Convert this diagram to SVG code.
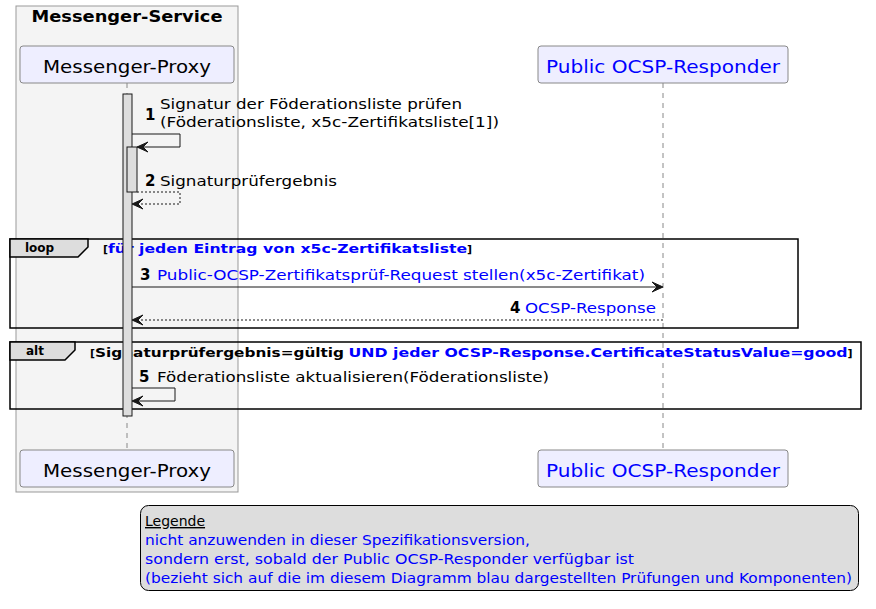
<svg xmlns="http://www.w3.org/2000/svg" width="876" height="609" viewBox="0 0 876 609">
<style>
  text { font-family: "DejaVu Sans", "Liberation Sans", sans-serif; }
  .part { fill: #EEEEFF; stroke: #888888; stroke-width: 1; }
  .ptxt { font-size: 18px; text-anchor: middle; }
  .blue { fill: #0000FF; }
  .life { stroke: #888888; stroke-width: 1; stroke-dasharray: 5,5; fill: none; }
  .act { fill: #DDDDDD; stroke: #181818; stroke-width: 1; }
  .msg { stroke: #181818; stroke-width: 1; fill: none; }
  .dash { stroke-dasharray: 2,2; }
  .mtxt { font-size: 14px; }
  .num { font-size: 15px; font-weight: bold; }
  .frame { fill: none; stroke: #000000; stroke-width: 1.5; }
  .tab { fill: #DDDDDD; stroke: #000000; stroke-width: 1.5; }
  .ftxt { font-size: 12px; font-weight: bold; }
  .guard { font-size: 13px; font-weight: bold; }
  .br { font-size: 11px; font-weight: bold; }
  .ah { fill: #181818; stroke: #181818; stroke-width: 1; }
</style>

<g id="messenger-service">
  <rect x="16" y="6" width="222" height="486" fill="#F4F4F4" stroke="#999999" stroke-width="1"/>
  <text x="127" y="22" font-size="15" font-weight="bold" text-anchor="middle" textLength="191" lengthAdjust="spacingAndGlyphs">Messenger-Service</text>
</g>

<g id="lifelines">
  <line class="life" x1="127" y1="83" x2="127" y2="450"/>
  <line class="life" x1="663" y1="83" x2="663" y2="450"/>
</g>

<g id="messenger-proxy-top">
  <rect class="part" x="20" y="46" width="214" height="37" rx="3"/>
  <text class="ptxt" x="127" y="73" textLength="168" lengthAdjust="spacingAndGlyphs">Messenger-Proxy</text>
</g>
<g id="ocsp-responder-top">
  <rect class="part" x="538" y="46" width="250" height="37" rx="3"/>
  <text class="ptxt blue" x="663" y="73" textLength="234" lengthAdjust="spacingAndGlyphs">Public OCSP-Responder</text>
</g>
<g id="messenger-proxy-bottom">
  <rect class="part" x="20" y="450" width="214" height="37" rx="3"/>
  <text class="ptxt" x="127" y="477" textLength="168" lengthAdjust="spacingAndGlyphs">Messenger-Proxy</text>
</g>
<g id="ocsp-responder-bottom">
  <rect class="part" x="538" y="450" width="250" height="37" rx="3"/>
  <text class="ptxt blue" x="663" y="477" textLength="234" lengthAdjust="spacingAndGlyphs">Public OCSP-Responder</text>
</g>

<g id="fragments">
  <g id="loop">
    <rect class="frame" x="10" y="239" width="788" height="89"/>
    <polygon class="tab" points="10,239 88,239 88,247 78,257 10,257"/>
    <text class="ftxt" x="25" y="252">loop</text>
    <text x="103" y="253"><tspan class="br">[</tspan><tspan class="guard blue" textLength="359" lengthAdjust="spacingAndGlyphs">für jeden Eintrag von x5c-Zertifikatsliste</tspan><tspan class="br">]</tspan></text>
  </g>
  <g id="alt">
    <rect class="frame" x="10" y="342" width="851" height="67"/>
    <polygon class="tab" points="10,342 75,342 75,350 65,360 10,360"/>
    <text class="ftxt" x="26" y="355">alt</text>
    <text x="90" y="357"><tspan class="br">[</tspan><tspan class="guard" textLength="249" lengthAdjust="spacingAndGlyphs">Signaturprüfergebnis=gültig</tspan><tspan class="guard"> </tspan><tspan class="guard blue" textLength="499" lengthAdjust="spacingAndGlyphs">UND jeder OCSP-Response.CertificateStatusValue=good</tspan><tspan class="br">]</tspan></text>
  </g>
</g>

<g id="activations">
  <rect class="act" x="123" y="94" width="9" height="322"/>
  <rect class="act" x="127" y="147" width="10" height="45"/>
</g>

<g id="connectors">
  <g id="msg1">
    <path class="msg" d="M132,134 H180 V147 H138"/>
    <polygon class="ah" points="137,147 148,142 143,147 148,152"/>
    <text class="num" x="145" y="120">1</text>
    <text class="mtxt" x="160" y="109" textLength="302" lengthAdjust="spacingAndGlyphs">Signatur der Föderationsliste prüfen</text>
    <text class="mtxt" x="160" y="127" textLength="339" lengthAdjust="spacingAndGlyphs">(Föderationsliste, x5c-Zertifikatsliste[1])</text>
  </g>
  <g id="msg2">
    <path class="msg dash" d="M137,192 H180 V204 H133"/>
    <polygon class="ah" points="132,204 143,199 138,204 143,209"/>
    <text class="num" x="145" y="186">2</text>
    <text class="mtxt" x="160" y="186" textLength="177" lengthAdjust="spacingAndGlyphs">Signaturprüfergebnis</text>
  </g>
  <g id="msg3">
    <line class="msg" x1="132" y1="287" x2="662" y2="287"/>
    <polygon class="ah" points="663,287 652,282 657,287 652,292"/>
    <text class="num" x="140" y="280">3</text>
    <text class="mtxt blue" x="157" y="280" textLength="488" lengthAdjust="spacingAndGlyphs">Public-OCSP-Zertifikatsprüf-Request stellen(x5c-Zertifikat)</text>
  </g>
  <g id="msg4">
    <line class="msg dash" x1="663" y1="320" x2="133" y2="320"/>
    <polygon class="ah" points="132,320 143,315 138,320 143,325"/>
    <text class="num" x="510" y="313">4</text>
    <text class="mtxt blue" x="525" y="313" textLength="131" lengthAdjust="spacingAndGlyphs">OCSP-Response</text>
  </g>
  <g id="msg5">
    <path class="msg" d="M132,388 H175 V401 H133"/>
    <polygon class="ah" points="132,401 143,396 138,401 143,406"/>
    <text class="num" x="139" y="382">5</text>
    <text class="mtxt" x="157" y="382" textLength="392" lengthAdjust="spacingAndGlyphs">Föderationsliste aktualisieren(Föderationsliste)</text>
  </g>
</g>

<g id="legend">
  <rect x="140.5" y="505.5" width="718" height="85" rx="8" fill="#DDDDDD" stroke="#000000" stroke-width="1"/>
  <text class="mtxt" x="145" y="526" text-decoration="underline">Legende</text>
  <text class="mtxt blue" x="145" y="545" textLength="385" lengthAdjust="spacingAndGlyphs">nicht anzuwenden in dieser Spezifikationsversion,</text>
  <text class="mtxt blue" x="145" y="564" textLength="489" lengthAdjust="spacingAndGlyphs">sondern erst, sobald der Public OCSP-Responder verfügbar ist</text>
  <text class="mtxt blue" x="145" y="583" textLength="707" lengthAdjust="spacingAndGlyphs">(bezieht sich auf die im diesem Diagramm blau dargestellten Prüfungen und Komponenten)</text>
</g>
</svg>
